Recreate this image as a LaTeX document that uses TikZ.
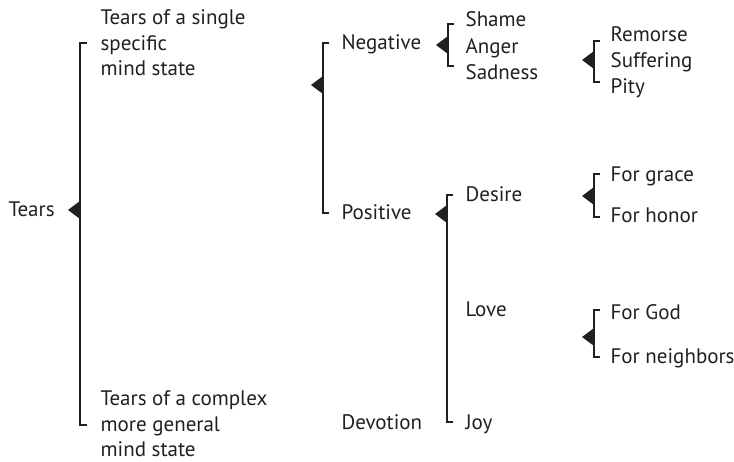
\documentclass[tikz,border=0pt]{standalone}
\usepackage{fontspec}
\setmainfont{PT Sans}
\usepackage{tikz}
\definecolor{ink}{HTML}{231F20}

\begin{document}
\begin{tikzpicture}[x=1pt, y=-1pt, line width=1.2pt, color=ink,
    every node/.style={inner sep=0pt, anchor=west, font=\fontsize{21}{25.5}\selectfont},
    item/.style={text height=15pt, text depth=1pt},
    block/.style={align=left}]
    \useasboundingbox (0,0) rectangle (734,462);

    % first level
    \node[item] (tears) at (8,210) {Tears};
    \node[block] (tsingle) at (100,43) {Tears of a single\\specific\\mind state};
    \node[block] (tcomplex) at (100,424) {Tears of a complex\\more general\\mind state};

    % second level
    \node[item] (neg) at (341,43) {Negative};
    \node[item] (pos) at (341,213) {Positive};
    \node[item] (devotion) at (341,422) {Devotion};

    % third level
    \node[item] (shame) at (465,20) {Shame};
    \node[item] (anger) at (465,47) {Anger};
    \node[item] (sadness) at (465,73) {Sadness};
    \node[item] (desire) at (465,195) {Desire};
    \node[item] (love) at (465,310) {Love};
    \node[item] (joy) at (465,422) {Joy};

    % fourth level
    \node[item] (remorse) at (610,35) {Remorse};
    \node[item] (suffering) at (610,61) {Suffering};
    \node[item] (pity) at (610,87) {Pity};
    \node[item] (grace) at (610,175) {For grace};
    \node[item] (honor) at (610,216) {For honor};
    \node[item] (god) at (610,313) {For God};
    \node[item] (neighbors) at (610,357) {For neighbors};

    % brackets
    \draw ([xshift=-13pt]tsingle.west) -- ++(-7pt,0) |- ([xshift=-13pt,yshift=-1pt]tcomplex.west);
    \draw ([xshift=-12pt]neg.west) -- ++(-6pt,0) |- ([xshift=-12pt]pos.west);
    \draw ([xshift=-11pt,yshift=-4pt]shame.west) -- ++(-6pt,0) |- ([xshift=-11pt,yshift=7pt]sadness.west);
    \draw ([xshift=-10pt,yshift=-6pt]remorse.west) -- ++(-6pt,0) |- ([xshift=-10pt,yshift=5pt]pity.west);
    \draw ([xshift=-12pt]desire.west) -- ++(-6pt,0) |- ([xshift=-12pt]joy.west);
    \draw ([xshift=-10pt,yshift=1pt]grace.west) -- ++(-6pt,0) |- ([xshift=-10pt,yshift=-1pt]honor.west);
    \draw ([xshift=-10pt,yshift=3pt]god.west) -- ++(-6pt,0) |- ([xshift=-10pt]neighbors.west);

    % pointers
    \foreach \x/\y in {80/210, 323/85, 448/45, 594/60, 447/214, 594/196, 594/337}
        \fill (\x,\y-9) -- (\x-12,\y) -- (\x,\y+9) -- cycle;
\end{tikzpicture}
\end{document}
